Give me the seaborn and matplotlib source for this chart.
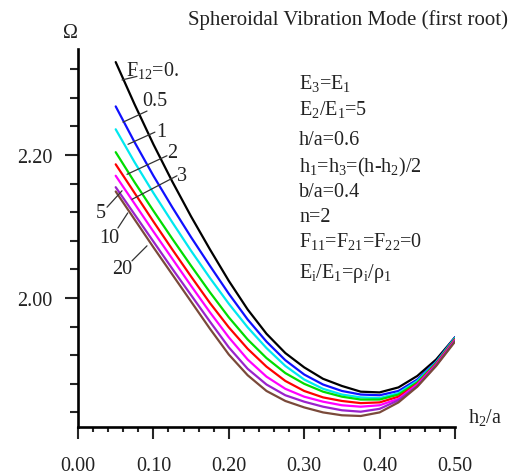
import numpy as np
import pandas as pd
import matplotlib
matplotlib.use("Agg")
import matplotlib.pyplot as plt
import seaborn as sns
from matplotlib.ticker import MultipleLocator, FixedLocator

# h2/a sample positions
h2a = [0.050, 0.075, 0.100, 0.125, 0.150, 0.175, 0.200, 0.225, 0.250, 0.275,
       0.300, 0.325, 0.350, 0.375, 0.400, 0.425, 0.450, 0.475, 0.500]

# Omega (first root) for each F12 value
f12_0 = [2.330, 2.271, 2.215, 2.163, 2.114, 2.068, 2.024, 1.984, 1.950, 1.923,
         1.903, 1.887, 1.877, 1.869, 1.868, 1.875, 1.891, 1.914, 1.945]
f12_05 = [2.268, 2.218, 2.171, 2.127, 2.085, 2.045, 2.006, 1.970, 1.939, 1.913,
          1.893, 1.879, 1.870, 1.865, 1.864, 1.870, 1.886, 1.911, 1.945]
f12_1 = [2.236, 2.190, 2.147, 2.106, 2.066, 2.028, 1.992, 1.959, 1.930, 1.905,
         1.886, 1.873, 1.865, 1.861, 1.860, 1.867, 1.884, 1.910, 1.944]
f12_2 = [2.204, 2.162, 2.122, 2.083, 2.045, 2.008, 1.973, 1.942, 1.916, 1.895,
         1.880, 1.869, 1.862, 1.858, 1.858, 1.865, 1.882, 1.909, 1.943]
f12_3 = [2.187, 2.147, 2.107, 2.068, 2.030, 1.993, 1.959, 1.929, 1.904, 1.884,
         1.870, 1.861, 1.856, 1.853, 1.854, 1.862, 1.880, 1.908, 1.942]
f12_5 = [2.171, 2.132, 2.093, 2.055, 2.017, 1.980, 1.945, 1.914, 1.890, 1.873,
         1.862, 1.855, 1.850, 1.848, 1.850, 1.859, 1.879, 1.907, 1.941]
f12_10 = [2.155, 2.117, 2.079, 2.041, 2.004, 1.967, 1.931, 1.901, 1.879, 1.864,
          1.855, 1.848, 1.843, 1.841, 1.845, 1.857, 1.877, 1.906, 1.940]
f12_20 = [2.149, 2.110, 2.071, 2.033, 1.995, 1.957, 1.921, 1.892, 1.870, 1.856,
          1.847, 1.840, 1.836, 1.835, 1.840, 1.854, 1.876, 1.905, 1.939]

f12_labels = ["0.", "0.5", "1", "2", "3", "5", "10", "20"]
series = [f12_0, f12_05, f12_1, f12_2, f12_3, f12_5, f12_10, f12_20]
colors = ["#000000", "#1010ff", "#00e8f0", "#00dd00", "#ff0000", "#ff00ff",
          "#9a22cc", "#7a4a3a"]

params = ["E$_3$=E$_1$", "E$_2$/E$_1$=5", "h/a=0.6", "h$_1$=h$_3$=(h-h$_2$)/2",
          "b/a=0.4", "n=2", "F$_{11}$=F$_{21}$=F$_{22}$=0",
          "E$_\\mathrm{i}$/E$_1$=ρ$_\\mathrm{i}$/ρ$_1$"]
x_ticks = [0.0, 0.1, 0.2, 0.3, 0.4, 0.5]
y_ticks = [2.00, 2.20]

rows = []
for lab, vals in zip(f12_labels, series):
    for x, y in zip(h2a, vals):
        rows.append({"h2a": x, "omega": y, "F12": lab})
df = pd.DataFrame(rows)

sns.set_style("ticks")
plt.rcParams["font.family"] = ["Liberation Serif", "DejaVu Serif"]
plt.rcParams["mathtext.fontset"] = "custom"
plt.rcParams["mathtext.rm"] = "Liberation Serif"
plt.rcParams["mathtext.it"] = "Liberation Serif:italic"
plt.rcParams["mathtext.default"] = "regular"
plt.rcParams["lines.solid_joinstyle"] = "round"

txt = "#222222"
fs = 14.5

fig = plt.figure(figsize=(5.16, 4.77), dpi=100)
ax = fig.add_axes([78 / 516, 49 / 477, 377 / 516, 378 / 477])

sns.lineplot(data=df, x="h2a", y="omega", hue="F12", hue_order=f12_labels,
             palette=colors, linewidth=1.6, legend=False, ax=ax, sort=True)

ax.set_xlim(0.0, 0.5)
ax.set_ylim(1.8196, 2.3483)
ax.set_xlabel("")
ax.set_ylabel("")

ax.xaxis.set_major_locator(FixedLocator(x_ticks))
ax.xaxis.set_minor_locator(MultipleLocator(0.02))
ax.set_xticklabels([f"{t:.2f}" for t in x_ticks])
ax.yaxis.set_major_locator(FixedLocator(y_ticks))
ax.yaxis.set_minor_locator(FixedLocator(np.arange(1.84, 2.33, 0.04)))
ax.set_yticklabels([f"{t:.2f}" for t in y_ticks])

ax.tick_params(axis="x", which="major", direction="out", length=8.6, width=1.5,
               pad=12, labelsize=fs, labelcolor=txt)
ax.tick_params(axis="x", which="minor", direction="out", length=3.8, width=1.5)
ax.tick_params(axis="y", which="major", direction="out", length=9.4, width=1.5,
               pad=9, labelsize=fs, labelcolor=txt)
ax.tick_params(axis="y", which="minor", direction="out", length=5.8, width=1.5)

sns.despine(ax=ax)
for side in ["left", "bottom"]:
    ax.spines[side].set_linewidth(1.9)
    ax.spines[side].set_color("black")

# curve labels with leader lines
lead = dict(arrowstyle="-", lw=0.9, color="#333333", shrinkA=0, shrinkB=0)
labels = [
    ("F$_{12}$=0.", (0.0637, 2.320), (0.0584, 2.305), (0.0782, 2.310), "left"),
    ("0.5", (0.1015, 2.276), (0.0597, 2.246), (0.0915, 2.2615), "center"),
    ("1", (0.110, 2.233), (0.0663, 2.215), (0.102, 2.232), "center"),
    ("2", (0.1247, 2.203), (0.065, 2.173), (0.118, 2.199), "center"),
    ("3", (0.138, 2.172), (0.0716, 2.138), (0.1313, 2.171), "center"),
    ("5", (0.0305, 2.1196), (0.0584, 2.150), (0.0385, 2.127), "center"),
    ("10", (0.0411, 2.0846), (0.066, 2.119), (0.053, 2.098), "center"),
    ("20", (0.0584, 2.041), (0.0915, 2.073), (0.0716, 2.052), "center"),
]
for text, pos, a, b, ha in labels:
    ax.annotate("", xy=a, xytext=b, arrowprops=lead, annotation_clip=False)
    ax.text(pos[0], pos[1], text, ha=ha, va="center", fontsize=fs, color=txt,
            clip_on=False)

fig.text(188 / 516, 1 - 20 / 477, "Spheroidal Vibration Mode (first root)",
         ha="left", va="center", fontsize=15, color=txt)
fig.text(70 / 516, 1 - 33 / 477, "Ω", ha="center", va="center", fontsize=fs,
         color=txt)
fig.text(485 / 516, 1 - 418 / 477, "h$_2$/a", ha="center", va="center",
         fontsize=fs, color=txt)

baselines = [89, 115, 145, 172, 197, 222, 247, 278]
for line, yb in zip(params, baselines):
    fig.text(299 / 516, 1 - yb / 477, line, ha="left", va="baseline",
             fontsize=fs, color=txt)

fig.savefig("out.png", dpi=100)
plt.close(fig)
